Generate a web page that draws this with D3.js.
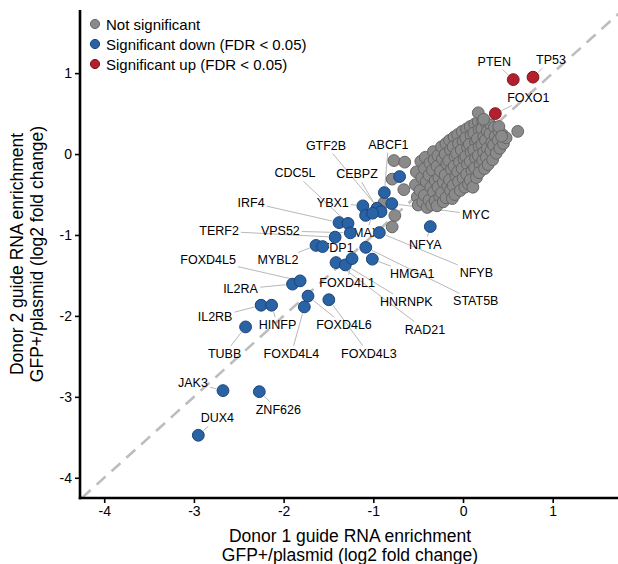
<!DOCTYPE html>
<html>
<head>
<meta charset="utf-8">
<script src="https://cdn.jsdelivr.net/npm/d3@7"></script>
<style>
  body { margin: 0; background: #fff; }
  text { font-family: "Liberation Sans", Arial, Helvetica, sans-serif; fill: #000; }
</style>
</head>
<body>
<svg id="chart" width="618" height="564"></svg>
<script>
// ---- data -------------------------------------------------------------
const xTicks = [-4, -3, -2, -1, 0, 1];
const yTicks = [-4, -3, -2, -1, 0, 1];
const legendLabels = ["Not significant", "Significant down (FDR < 0.05)", "Significant up (FDR < 0.05)"];

// significant up
const upGenes = ["PTEN", "TP53", "FOXO1"];
const upX = [0.56, 0.78, 0.36];
const upY = [0.92, 0.95, 0.50];

// significant down ("" = unlabelled guide)
const downGenes = ["", "ABCF1", "MYC", "YBX1", "CEBPZ", "GTF2B", "", "MAX", "NFYA",
  "IRF4", "CDC5L", "VPS52", "NFYB", "TERF2", "MYBL2", "FDP1", "STAT5B",
  "RAD21", "HNRNPK", "FOXD4L1", "HMGA1", "IL2RA", "FOXD4L5", "FOXD4L6", "FOXD4L3",
  "FOXD4L4", "IL2RB", "HINFP", "TUBB", "JAK3", "ZNF626", "DUX4"];
const downX = [-0.707, -0.877, -0.794, -1.117, -0.959, -0.914, -1.086, -1.008, -0.365,
  -1.382, -1.282, -1.256, -0.933, -1.426, -1.639, -1.565, -1.084,
  -1.416, -1.312, -1.237, -1.011, -1.901, -1.816, -1.728, -1.496,
  -1.769, -2.251, -2.134, -2.424, -2.676, -2.271, -2.951];
const downY = [-0.278, -0.476, -0.612, -0.640, -0.669, -0.711, -0.758, -0.731, -0.896,
  -0.847, -0.857, -0.974, -0.970, -1.027, -1.129, -1.143, -1.153,
  -1.341, -1.370, -1.292, -1.299, -1.607, -1.567, -1.755, -1.800,
  -1.889, -1.868, -1.868, -2.136, -2.923, -2.936, -3.475];

// not significant guides
const nsPoints = [
  [-0.52,-0.22],[-0.53,-0.38],[-0.51,-0.53],[-0.50,-0.63],
  [-0.47,-0.09],[-0.46,-0.29],[-0.48,-0.45],[-0.45,-0.59],
  [-0.42,-0.04],[-0.43,-0.18],[-0.41,-0.34],[-0.43,-0.51],[-0.40,-0.66],
  [-0.37,-0.11],[-0.38,-0.26],[-0.36,-0.41],[-0.38,-0.57],[-0.35,-0.63],
  [-0.33,0.03],[-0.32,-0.07],[-0.34,-0.20],[-0.31,-0.33],[-0.33,-0.47],[-0.31,-0.58],
  [-0.28,-0.02],[-0.29,-0.15],[-0.27,-0.29],[-0.28,-0.41],[-0.26,-0.53],[-0.29,-0.64],
  [-0.24,0.09],[-0.23,-0.06],[-0.25,-0.21],[-0.22,-0.35],[-0.24,-0.48],[-0.22,-0.59],
  [-0.19,0.13],[-0.20,0.00],[-0.18,-0.12],[-0.20,-0.26],[-0.17,-0.40],[-0.19,-0.54],
  [-0.15,0.17],[-0.14,0.05],[-0.16,-0.08],[-0.13,-0.19],[-0.15,-0.32],[-0.14,-0.45],[-0.12,-0.55],
  [-0.10,0.21],[-0.11,0.09],[-0.09,-0.03],[-0.10,-0.15],[-0.08,-0.27],[-0.11,-0.39],[-0.09,-0.50],
  [-0.06,0.24],[-0.05,0.13],[-0.07,0.01],[-0.04,-0.10],[-0.06,-0.22],[-0.05,-0.34],[-0.03,-0.45],
  [-0.01,0.28],[0.00,0.16],[-0.02,0.05],[0.01,-0.06],[-0.01,-0.18],[0.00,-0.30],[0.02,-0.41],
  [0.04,0.31],[0.03,0.20],[0.05,0.08],[0.03,-0.03],[0.05,-0.13],[0.04,-0.25],[0.06,-0.37],
  [0.08,0.34],[0.09,0.23],[0.07,0.12],[0.09,0.02],[0.08,-0.09],[0.10,-0.21],[0.08,-0.32],[0.11,-0.41],
  [0.13,0.37],[0.12,0.26],[0.14,0.15],[0.12,0.05],[0.14,-0.05],[0.13,-0.17],[0.15,-0.29],
  [0.17,0.40],[0.18,0.30],[0.16,0.19],[0.18,0.09],[0.17,-0.02],[0.19,-0.13],[0.18,-0.23],
  [0.22,0.41],[0.21,0.31],[0.23,0.21],[0.21,0.12],[0.23,0.02],[0.22,-0.08],[0.24,-0.18],
  [0.26,0.38],[0.27,0.28],[0.25,0.17],[0.27,0.07],[0.26,-0.04],[0.28,-0.13],
  [0.31,0.36],[0.30,0.25],[0.32,0.14],[0.31,0.04],[0.33,-0.07],
  [0.35,0.33],[0.36,0.22],[0.34,0.11],[0.37,0.01],
  [0.40,0.28],[0.39,0.17],[0.41,0.07],
  [0.44,0.24],[0.45,0.13],[0.48,0.20],
  [0.17,0.51],[0.23,0.43],[0.40,0.34],[0.43,0.22],[0.61,0.28],
  [-0.77,-0.08],[-0.65,-0.10],[-0.79,-0.31],[-0.66,-0.44],[-0.76,-0.76],[-0.79,-0.90],
  [-0.88,-0.60]
];

// ---- layout ------------------------------------------------------------
const W = 618, H = 564;
const plot = { left: 80, right: 620, top: 10, bottom: 498 };
const R = 5.9;
const colors = {
  ns:   { fill: "#8a8a8a", stroke: "#666666" },
  down: { fill: "#2a62a6", stroke: "#1b4477" },
  up:   { fill: "#b41f2d", stroke: "#7e1520" }
};
// label centre offsets (px) from each labelled point
const labelNudge = {
  PTEN: [-19, -18], TP53: [18, -17], FOXO1: [33, -16],
  GTF2B: [-55, -66], ABCF1: [4, -48], CDC5L: [-53, -50], CEBPZ: [-20, -34],
  IRF4: [-88, -20], YBX1: [-30, -3], MYC: [84, 11], TERF2: [-116, -6],
  VPS52: [-70, -2], MAX: [-6, 20], NFYA: [-5, 18], NFYB: [97, 40],
  FOXD4L5: [-92, -21], MYBL2: [-38, 15], FDP1: [15, 1], HMGA1: [40, 15],
  IL2RA: [-52, 5], FOXD4L1: [-5, 24], HNRNPK: [61, 37], STAT5B: [110, 54],
  RAD21: [89, 67], IL2RB: [-46, 12], HINFP: [6, 20], FOXD4L6: [36, 29],
  TUBB: [-21, 27], FOXD4L4: [-13, 47], FOXD4L3: [40, 54],
  JAK3: [-30, -8], ZNF626: [19, 18], DUX4: [19, -17]
};

const svg = d3.select("#chart");
const x = d3.scaleLinear().domain([-4.27, 1.75]).range([plot.left, plot.right]);
const y = d3.scaleLinear().domain([-4.25, 1.78]).range([plot.bottom, plot.top]);

// identity line
svg.append("line")
  .attr("x1", x(-4.25)).attr("y1", y(-4.25))
  .attr("x2", x(1.78)).attr("y2", y(1.78))
  .attr("stroke", "#bdbdbd").attr("stroke-width", 2.6)
  .attr("stroke-dasharray", "12,8");

const nsData = nsPoints.map(p => ({ x: p[0], y: p[1] }));
const downData = downGenes.map((g, i) => ({ gene: g, x: downX[i], y: downY[i] }));
const upData = upGenes.map((g, i) => ({ gene: g, x: upX[i], y: upY[i] }));

// gene labels + connector segments (under the points)
const labelled = downData.concat(upData).filter(d => d.gene && labelNudge[d.gene]);
const segG = svg.append("g");
const labG = svg.append("g");
labelled.forEach(d => {
  const px = x(d.x), py = y(d.y);
  const [dx, dy] = labelNudge[d.gene];
  const t = labG.append("text")
    .attr("x", px + dx).attr("y", py + dy)
    .attr("text-anchor", "middle").attr("dominant-baseline", "central")
    .style("font-size", "12.5px").text(d.gene);
  const bb = t.node().getBBox();
  const pad = 2;
  const hw = bb.width / 2 + pad, hh = bb.height / 2 + pad - 1;
  const cx = px + dx, cy = py + dy;
  // start of segment: where the centre->point ray leaves the label box
  const vx = px - cx, vy = py - cy;
  const s = Math.min(vx !== 0 ? hw / Math.abs(vx) : Infinity, vy !== 0 ? hh / Math.abs(vy) : Infinity);
  if (s >= 1) return;
  const sx = cx + vx * s, sy = cy + vy * s;
  const len = Math.hypot(px - sx, py - sy);
  const end = Math.max(0, len - (R + 1));
  if (end < 3) return;
  segG.append("line")
    .attr("x1", sx).attr("y1", sy)
    .attr("x2", sx + (px - sx) * end / len).attr("y2", sy + (py - sy) * end / len)
    .attr("stroke", "#b8b8b8").attr("stroke-width", 1);
});

function drawPoints(data, c) {
  svg.append("g").selectAll("circle").data(data).join("circle")
    .attr("cx", d => x(d.x)).attr("cy", d => y(d.y)).attr("r", R)
    .attr("fill", c.fill).attr("stroke", c.stroke).attr("stroke-width", 1);
}
drawPoints(nsData, colors.ns);
drawPoints(downData, colors.down);
drawPoints(upData, colors.up);

// axes
const fmt = d => String(d);
const xAxis = svg.append("g").attr("transform", `translate(0,${plot.bottom})`)
  .call(d3.axisBottom(x).tickValues(xTicks).tickFormat(fmt).tickSizeInner(5).tickSizeOuter(0).tickPadding(3));
const yAxis = svg.append("g").attr("transform", `translate(${plot.left},0)`)
  .call(d3.axisLeft(y).tickValues(yTicks).tickFormat(fmt).tickSizeInner(5).tickSizeOuter(0).tickPadding(3));
[xAxis, yAxis].forEach(a => {
  a.select(".domain").attr("stroke", "#000").attr("stroke-width", 2.6);
  a.selectAll(".tick line").attr("stroke", "#000").attr("stroke-width", 1.6);
  a.selectAll(".tick text").style("font-size", "14px").attr("fill", "#000")
    .style("font-family", '"Liberation Sans", Arial, sans-serif');
});
yAxis.select(".domain").attr("d", `M0,${plot.top}V${plot.bottom + 1.3}`);
xAxis.select(".domain").attr("d", `M${plot.left - 1.3},0H${W}`);

// axis titles
const xTitle = ["Donor 1 guide RNA enrichment", "GFP+/plasmid (log2 fold change)"];
const yTitle = ["Donor 2 guide RNA enrichment", "GFP+/plasmid (log2 fold change)"];
xTitle.forEach((s, i) => svg.append("text")
  .attr("x", 350).attr("y", 536 + i * 19)
  .attr("text-anchor", "middle").attr("dominant-baseline", "central")
  .style("font-size", "17.5px").text(s));
yTitle.forEach((s, i) => svg.append("text")
  .attr("transform", `translate(${17 + i * 20},254) rotate(-90)`)
  .attr("text-anchor", "middle").attr("dominant-baseline", "central")
  .style("font-size", "17.5px").text(s));

// legend
const legColors = [colors.ns, colors.down, colors.up];
legendLabels.forEach((s, i) => {
  const g = svg.append("g").attr("transform", `translate(95,${24 + i * 20})`);
  g.append("circle").attr("r", 4.6).attr("fill", legColors[i].fill)
    .attr("stroke", legColors[i].stroke).attr("stroke-width", 1);
  g.append("text").attr("x", 11).attr("dominant-baseline", "central")
    .style("font-size", "15px").text(s);
});
</script>
</body>
</html>
